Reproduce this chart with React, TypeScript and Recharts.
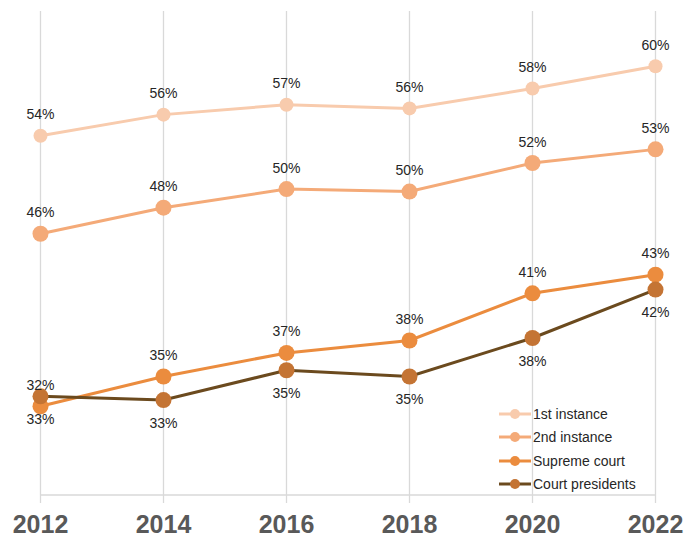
import {
  LineChart,
  Line,
  XAxis,
  YAxis,
  CartesianGrid,
  Legend,
  LabelList,
} from "recharts";

const years = ["2012", "2014", "2016", "2018", "2020", "2022"];

// values (percent)
const firstInstance = [54.2, 55.9, 56.7, 56.4, 58.0, 59.8];
const secondInstance = [46.3, 48.4, 49.9, 49.7, 52.0, 53.1];
const supremeCourt = [32.4, 34.8, 36.7, 37.7, 41.5, 43.0];
const courtPresidents = [33.2, 32.9, 35.3, 34.8, 37.9, 41.8];

// data labels as printed on the chart
const firstLabels = ["54%", "56%", "57%", "56%", "58%", "60%"];
const secondLabels = ["46%", "48%", "50%", "50%", "52%", "53%"];
const supremeLabels = ["32%", "35%", "37%", "38%", "41%", "43%"];
const presidentsLabels = ["33%", "33%", "35%", "35%", "38%", "42%"];

const FONT = "'Liberation Sans', Arial, sans-serif";
const GRID = "#d9d9d9";

const series = [
  { key: "first", name: "1st instance", line: "#F8CBAD", dot: "#F8CBAD", r: 7, labels: firstLabels, dy: -16.5 },
  { key: "second", name: "2nd instance", line: "#F4AA78", dot: "#F4AA78", r: 8, labels: secondLabels, dy: -16.5 },
  { key: "supreme", name: "Supreme court", line: "#EB8C3E", dot: "#EB8C3E", r: 8, labels: supremeLabels, dy: -16.5 },
  { key: "presidents", name: "Court presidents", line: "#6B4A1E", dot: "#C47434", r: 8, labels: presidentsLabels, dy: 27.5 },
];

const chartData = years.map((year, i) => ({
  year,
  first: firstInstance[i],
  second: secondInstance[i],
  supreme: supremeCourt[i],
  presidents: courtPresidents[i],
}));

const makeLabel = (labels: string[], dy: number) =>
  // eslint-disable-next-line @typescript-eslint/no-explicit-any
  (props: any) => {
    const x = props.x ?? props.viewBox?.x;
    const y = props.y ?? props.viewBox?.y;
    return (
      <text
        x={x}
        y={y + dy}
        textAnchor="middle"
        fontSize={14}
        fontFamily={FONT}
        fill="#262626"
      >
        {labels[props.index]}
      </text>
    );
  };

function LegendBox() {
  return (
    <div style={{ fontFamily: FONT, fontSize: 14, color: "#262626" }}>
      {series.map((s) => (
        <div
          key={s.key}
          style={{ display: "flex", alignItems: "center", height: 23.3 }}
        >
          <svg width={34} height={12} style={{ display: "block" }}>
            <line x1={0} x2={32} y1={6} y2={6} stroke={s.line} strokeWidth={3} />
            <circle cx={16} cy={6} r={5} fill={s.dot} />
          </svg>
          <span style={{ whiteSpace: "nowrap" }}>{s.name}</span>
        </div>
      ))}
    </div>
  );
}

export default function App() {
  return (
    <div style={{ position: "absolute", left: 0, top: 0, background: "#fff" }}>
      <LineChart
        width={692}
        height={534}
        data={chartData}
        margin={{ top: 11, right: 36.5, bottom: 0, left: 40.5 }}
      >
        <CartesianGrid horizontal={false} stroke={GRID} strokeWidth={1.3} />
        <XAxis
          dataKey="year"
          scale="point"
          padding={{ left: 0, right: 0 }}
          height={39}
          axisLine={{ stroke: GRID, strokeWidth: 1.5 }}
          tickLine={{ stroke: GRID, strokeWidth: 1.3 }}
          tickSize={8}
          tickMargin={12}
          interval={0}
          tick={{ fill: "#595959", fontSize: 25, fontWeight: "bold", fontFamily: FONT }}
        />
        <YAxis hide domain={[25.25, 64.25]} />
        <Legend
          layout="vertical"
          align="center"
          verticalAlign="middle"
          content={() => <LegendBox />}
          wrapperStyle={{ left: 499, top: 402.4, width: 180, height: 94 }}
        />
        {series.map((s) => (
          <Line
            key={s.key}
            dataKey={s.key}
            name={s.name}
            type="linear"
            stroke={s.line}
            strokeWidth={3}
            dot={{ r: s.r, fill: s.dot, stroke: s.dot, strokeWidth: 0 }}
            activeDot={false}
            isAnimationActive={false}
          >
            <LabelList dataKey={s.key} content={makeLabel(s.labels, s.dy)} />
          </Line>
        ))}
      </LineChart>
    </div>
  );
}
